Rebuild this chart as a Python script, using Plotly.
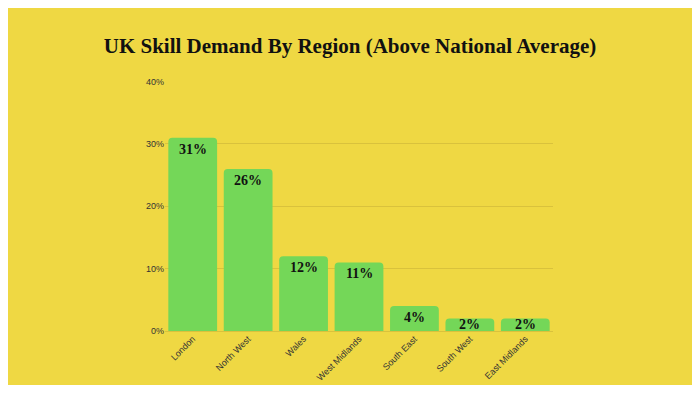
import plotly.graph_objects as go

regions = ["London", "North West", "Wales", "West Midlands", "South East", "South West", "East Midlands"]
values = [31, 26, 12, 11, 4, 2, 2]
labels = [f"{v}%" for v in values]
y_ticks = [0, 10, 20, 30, 40]
y_tick_text = ["0%", "10%", "20%", "30%", "40%"]

YELLOW = "#EFD843"
GREEN = "#74D758"
LABEL_FONT = dict(family="Liberation Serif", size=14, color="#111111", weight="bold")

fig = go.Figure(go.Bar(
    x=regions, y=values,
    marker=dict(color=GREEN, line=dict(width=0)),
    hoverinfo="skip",
))

# value labels inside bars (top-anchored when the bar is tall enough, centred otherwise)
for r, v, t in zip(regions, values, labels):
    if v >= 3:
        fig.add_annotation(x=r, y=v, text=t, showarrow=False, yanchor="top", yshift=-2,
                           font=LABEL_FONT)
    else:
        fig.add_annotation(x=r, y=v / 2, text=t, showarrow=False, yanchor="middle",
                           font=LABEL_FONT)

fig.update_layout(
    width=684, height=377,
    paper_bgcolor=YELLOW, plot_bgcolor=YELLOW,
    margin=dict(l=157, r=139, t=73, b=54),
    bargap=0.12,
    barcornerradius=4,
    showlegend=False,
    title=dict(
        text="UK Skill Demand By Region (Above National Average)",
        x=(350 - 8) / 684, xref="container", y=1 - (46 - 8) / 377, yref="container",
        xanchor="center", yanchor="middle",
        font=dict(family="Liberation Serif", size=21, color="#111111", weight="bold"),
    ),
)

fig.update_xaxes(
    tickangle=-45, tickfont=dict(family="Liberation Sans", size=9, color="#333333"),
    showgrid=False, showline=False, ticks="", automargin=False,
)
fig.update_yaxes(
    range=[0, 40.1], tickvals=y_ticks, ticktext=y_tick_text,
    tickfont=dict(family="Liberation Sans", size=9, color="#333333"),
    gridcolor="#D9C23C", gridwidth=1, zeroline=True, zerolinecolor="#D9C23C", zerolinewidth=1,
    ticks="", showline=False, automargin=False,
)

fig.write_html("out.html")
